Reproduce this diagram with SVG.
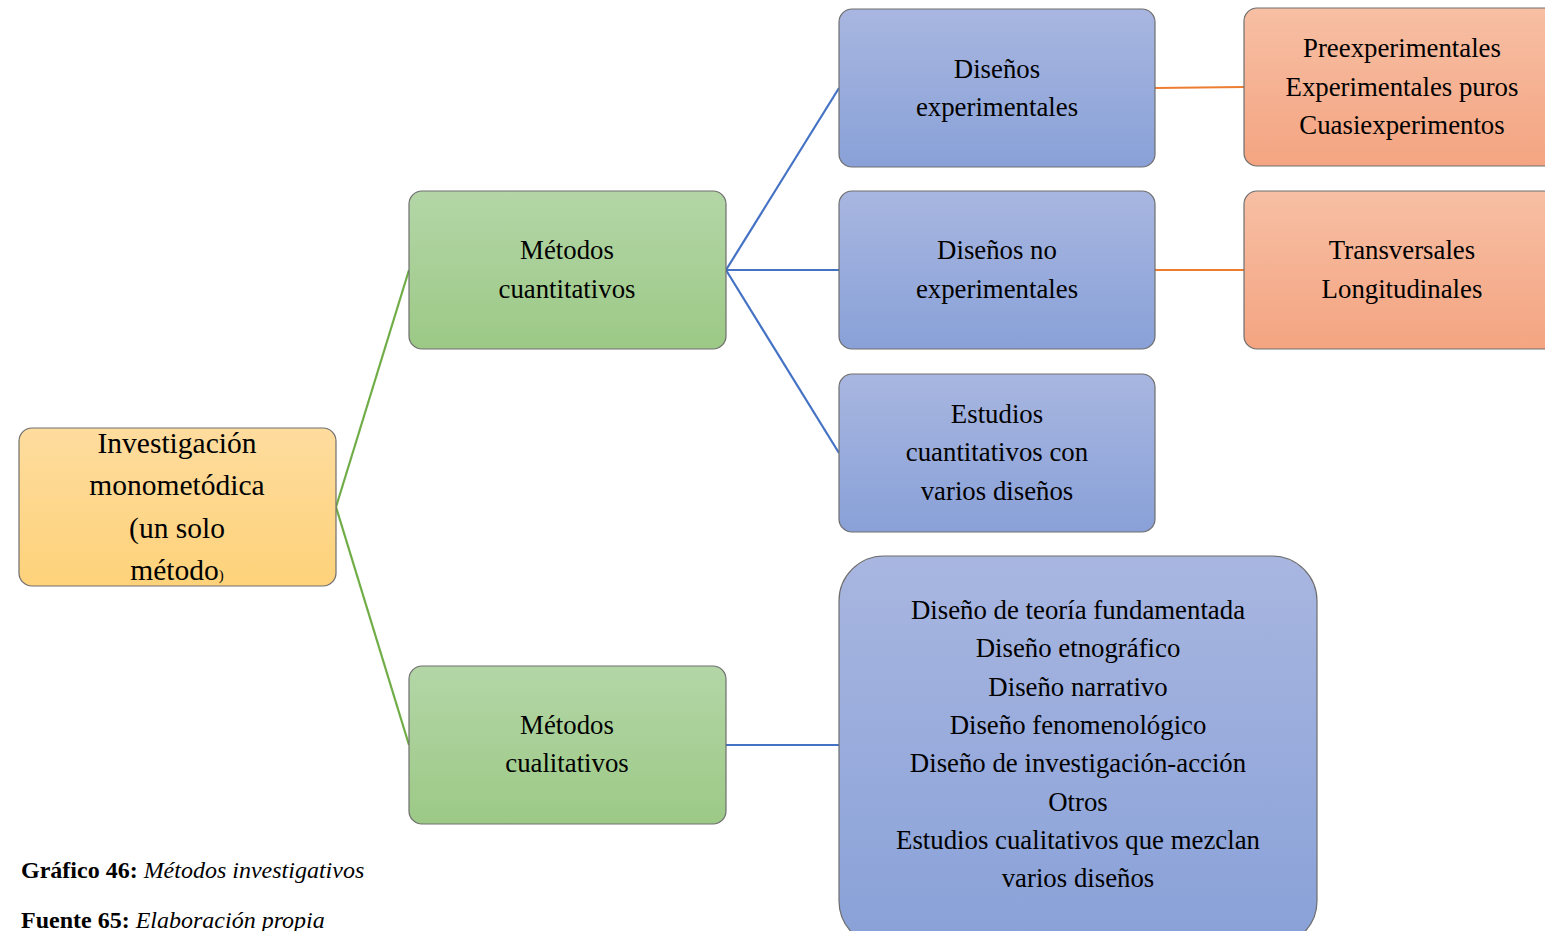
<svg xmlns="http://www.w3.org/2000/svg" width="1545" height="931" viewBox="0 0 1545 931">
<defs>
<linearGradient id="gY" x1="0" y1="0" x2="0" y2="1"><stop offset="0" stop-color="#fedc9e"/><stop offset="1" stop-color="#fed27a"/></linearGradient>
<linearGradient id="gG" x1="0" y1="0" x2="0" y2="1"><stop offset="0" stop-color="#b4d6a7"/><stop offset="1" stop-color="#9cc986"/></linearGradient>
<linearGradient id="gB" x1="0" y1="0" x2="0" y2="1"><stop offset="0" stop-color="#a8b6e0"/><stop offset="1" stop-color="#89a1d8"/></linearGradient>
<linearGradient id="gO" x1="0" y1="0" x2="0" y2="1"><stop offset="0" stop-color="#f7bfa4"/><stop offset="1" stop-color="#f4a481"/></linearGradient>
</defs>
<style>
.box{stroke:#6e6e6e;stroke-width:1.2}
.t{font-family:"Liberation Serif","Times New Roman",serif;font-size:26.8px;fill:#000;text-anchor:middle}
.r{font-size:29.5px}
.cap{font-family:"Liberation Serif","Times New Roman",serif;font-size:24px;fill:#000}
.g{stroke:#70ad47;stroke-width:2.2;fill:none}
.b{stroke:#4472c4;stroke-width:2.2;fill:none}
.o{stroke:#ed7d31;stroke-width:2.2;fill:none}
</style>
<rect width="1545" height="931" fill="#fff"/>
<g id="connectors">
<line class="g" x1="336" y1="507" x2="409" y2="270"/>
<line class="g" x1="336" y1="507" x2="409" y2="745"/>
<line class="b" x1="726" y1="270" x2="839" y2="88"/>
<line class="b" x1="726" y1="270" x2="839" y2="270"/>
<line class="b" x1="726" y1="270" x2="839" y2="453"/>
<line class="b" x1="726" y1="745" x2="839" y2="745"/>
<line class="o" x1="1155" y1="88" x2="1244" y2="87"/>
<line class="o" x1="1155" y1="270" x2="1244" y2="270"/>
</g>
<g id="root">
<rect class="box" x="19" y="428" width="317" height="158" rx="13" fill="url(#gY)"/>
<text class="t r" x="177" y="453">Investigación</text>
<text class="t r" x="177" y="495">monometódica</text>
<text class="t r" x="177" y="538">(un solo</text>
<text class="t r" x="177" y="580">método<tspan font-size="15">)</tspan></text>
</g>
<g id="cuantitativos">
<rect class="box" x="409" y="191" width="317" height="158" rx="13" fill="url(#gG)"/>
<text class="t" x="567" y="259">Métodos</text>
<text class="t" x="567" y="298">cuantitativos</text>
</g>
<g id="cualitativos">
<rect class="box" x="409" y="666" width="317" height="158" rx="13" fill="url(#gG)"/>
<text class="t" x="567" y="734">Métodos</text>
<text class="t" x="567" y="772">cualitativos</text>
</g>
<g id="experimentales">
<rect class="box" x="839" y="9" width="316" height="158" rx="13" fill="url(#gB)"/>
<text class="t" x="997" y="78">Diseños</text>
<text class="t" x="997" y="116">experimentales</text>
</g>
<g id="noexperimentales">
<rect class="box" x="839" y="191" width="316" height="158" rx="13" fill="url(#gB)"/>
<text class="t" x="997" y="259">Diseños no</text>
<text class="t" x="997" y="298">experimentales</text>
</g>
<g id="estudios">
<rect class="box" x="839" y="374" width="316" height="158" rx="13" fill="url(#gB)"/>
<text class="t" x="997" y="423">Estudios</text>
<text class="t" x="997" y="461">cuantitativos con</text>
<text class="t" x="997" y="500">varios diseños</text>
</g>
<g id="cualitativos-lista">
<rect class="box" x="839" y="556" width="478" height="390" rx="45" fill="url(#gB)"/>
<text class="t" x="1078" y="619">Diseño de teoría fundamentada</text>
<text class="t" x="1078" y="657">Diseño etnográfico</text>
<text class="t" x="1078" y="696">Diseño narrativo</text>
<text class="t" x="1078" y="734">Diseño fenomenológico</text>
<text class="t" x="1078" y="772">Diseño de investigación-acción</text>
<text class="t" x="1078" y="811">Otros</text>
<text class="t" x="1078" y="849">Estudios cualitativos que mezclan</text>
<text class="t" x="1078" y="887">varios diseños</text>
</g>
<g id="tipos-experimentales">
<rect class="box" x="1244" y="8" width="316" height="158" rx="13" fill="url(#gO)"/>
<text class="t" x="1402" y="57">Preexperimentales</text>
<text class="t" x="1402" y="96">Experimentales puros</text>
<text class="t" x="1402" y="134">Cuasiexperimentos</text>
</g>
<g id="tipos-noexperimentales">
<rect class="box" x="1244" y="191" width="316" height="158" rx="13" fill="url(#gO)"/>
<text class="t" x="1402" y="259">Transversales</text>
<text class="t" x="1402" y="298">Longitudinales</text>
</g>
<g id="caption">
<text class="cap" x="21" y="878"><tspan font-weight="bold">Gráfico 46:</tspan> <tspan font-style="italic">Métodos investigativos</tspan></text>
<text class="cap" x="21" y="928"><tspan font-weight="bold">Fuente 65:</tspan> <tspan font-style="italic">Elaboración propia</tspan></text>
</g>
</svg>
